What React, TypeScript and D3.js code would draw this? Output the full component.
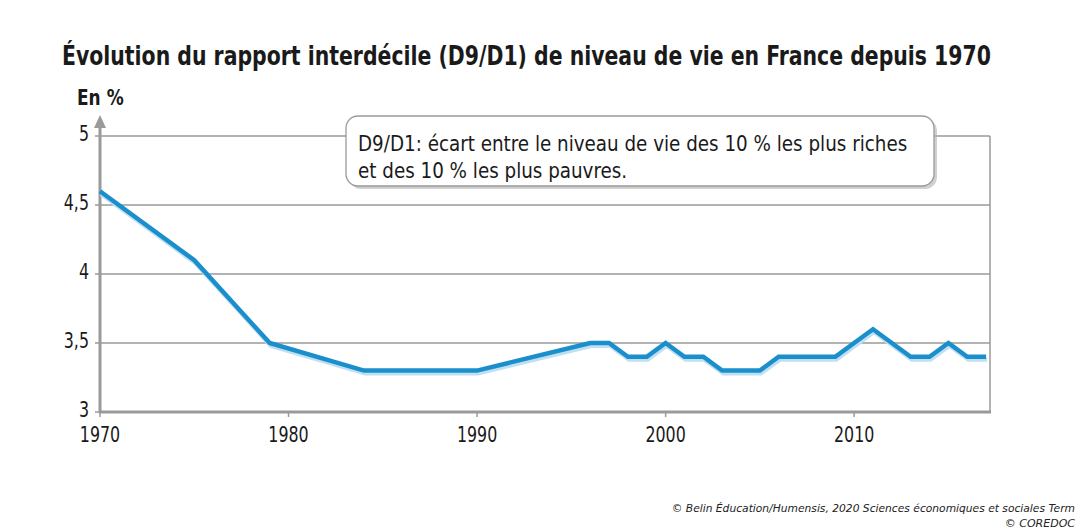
import React, { useLayoutEffect, useRef, useState } from "react";
import * as d3 from "d3";

const years = [1970, 1975, 1979, 1984, 1990, 1996, 1997, 1998, 1999, 2000, 2001, 2002, 2003, 2004, 2005, 2006, 2007, 2008, 2009, 2010, 2011, 2012, 2013, 2014, 2015, 2016, 2017];
const ratio = [4.6, 4.1, 3.5, 3.3, 3.3, 3.5, 3.5, 3.4, 3.4, 3.5, 3.4, 3.4, 3.3, 3.3, 3.3, 3.4, 3.4, 3.4, 3.4, 3.5, 3.6, 3.5, 3.4, 3.4, 3.5, 3.4, 3.4];
const yTicks = [3, 3.5, 4, 4.5, 5];
const yTickLabels = ["3", "3,5", "4", "4,5", "5"];
const xTicks = [1970, 1980, 1990, 2000, 2010];

const title = "Évolution du rapport interdécile (D9/D1) de niveau de vie en France depuis 1970";
const unit = "En %";
const note = ["D9/D1: écart entre le niveau de vie des 10 % les plus riches", "et des 10 % les plus pauvres."];
const credits = ["© Belin Éducation/Humensis, 2020 Sciences économiques et sociales Term", "© COREDOC"];

const FONT = "'DejaVu Sans Condensed', 'Liberation Sans Narrow', Roboto, sans-serif";
const SX = 0.84;

type TP = { x: number; y: number; anchor?: string; size: number; bold?: boolean; italic?: boolean; children: string; sx?: number; width?: number; family?: string; fill?: string };

function CText(props: TP) {
  const ref = useRef<SVGTextElement>(null);
  const [s, setS] = useState(props.sx ?? SX);
  useLayoutEffect(() => {
    if (props.width && ref.current) {
      const w = ref.current.getComputedTextLength();
      if (w > 0) setS(props.width / w);
    }
  }, [props.width, props.children]);
  return (
    <text
      ref={ref}
      transform={`translate(${props.x},${props.y}) scale(${s},1)`}
      textAnchor={props.anchor || "start"}
      fontFamily={props.family || FONT}
      fontWeight={props.bold ? "bold" : "normal"}
      fontStyle={props.italic ? "italic" : "normal"}
      fontSize={props.size}
      fill={props.fill || "#1a1a1a"}
    >
      {props.children}
    </text>
  );
}

export default function App() {
  const W = 1080, H = 532;
  const x = d3.scaleLinear().domain([1970, 2017.1]).range([100, 988]);
  const y = d3.scaleLinear().domain([3, 5]).range([412, 136]);
  const data = years.map((yr, i) => [yr, ratio[i]] as [number, number]);
  const line = d3.line<[number, number]>().x(d => x(d[0])).y(d => y(d[1]));
  const path = line(data) || "";
  const right = 990;
  return (
    <svg width={W} height={H} style={{ position: "absolute", left: 0, top: 0, background: "#fff" }}>
      <rect x={0} y={0} width={W} height={H} fill="#fff" />
      <CText x={62} y={65} size={27} bold width={929}>{title}</CText>
      <CText x={77} y={105} size={21} bold sx={0.9}>{unit}</CText>
      {yTicks.filter(t => t > 3).map(t => (
        <line key={t} x1={x(1970)} x2={right} y1={y(t)} y2={y(t)} stroke="#9a9a9a" strokeWidth={1.3} />
      ))}
      <line x1={right} x2={right} y1={y(5)} y2={y(3)} stroke="#9a9a9a" strokeWidth={1.5} />
      <line x1={x(1970)} x2={x(1970)} y1={y(3) + 1} y2={126} stroke="#9a9a9a" strokeWidth={3} />
      <path d={`M${x(1970) - 6},${128} L${x(1970)},${115} L${x(1970) + 6},${128} Z`} fill="#9a9a9a" />
      {yTicks.map((t, i) => (
        <g key={t}>
          <line x1={x(1970) - 5} x2={x(1970)} y1={y(t)} y2={y(t)} stroke="#9a9a9a" strokeWidth={1.5} />
          <CText x={89} y={y(t) + 5} anchor="end" size={21}>{yTickLabels[i]}</CText>
        </g>
      ))}
      <line x1={x(1970) - 1} x2={right + 1} y1={y(3)} y2={y(3)} stroke="#9a9a9a" strokeWidth={3} />
      {xTicks.map(t => (
        <g key={t}>
          <line x1={x(t)} x2={x(t)} y1={y(3)} y2={y(3) + 5} stroke="#9a9a9a" strokeWidth={1.5} />
          <CText x={x(t)} y={y(3) + 30} anchor="middle" size={21}>{String(t)}</CText>
        </g>
      ))}
      <rect x={349} y={119} width={588} height={70} rx={12} fill="#b0b0b0" opacity={0.6} />
      <rect x={346} y={116} width={588} height={70} rx={12} fill="#fff" stroke="#9a9a9a" strokeWidth={1.3} />
      <CText x={358} y={151} size={21} width={549}>{note[0]}</CText>
      <CText x={358} y={178} size={21} width={269}>{note[1]}</CText>
      <path d={path} transform="translate(1,3)" fill="none" stroke="#bfe0f2" strokeWidth={4} strokeLinejoin="miter" />
      <path d={path} fill="none" stroke="#1b8fcc" strokeWidth={4.5} strokeLinejoin="miter" />
      <CText x={1075} y={512} anchor="end" size={11} italic family="'DejaVu Sans', sans-serif" fill="#222" width={403}>{credits[0]}</CText>
      <CText x={1075} y={527} anchor="end" size={11} italic family="'DejaVu Sans', sans-serif" fill="#222" sx={1}>{credits[1]}</CText>
    </svg>
  );
}
